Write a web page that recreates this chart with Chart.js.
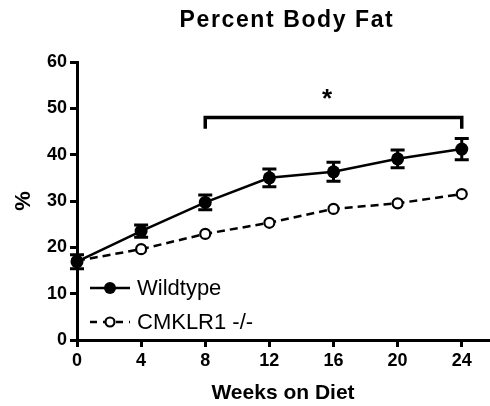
<!DOCTYPE html>
<html>
<head>
<meta charset="utf-8">
<script src="https://cdn.jsdelivr.net/npm/chart.js@4/dist/chart.umd.min.js"></script>
<style>
  html, body { margin: 0; padding: 0; background: #fff; }
  #wrap { width: 490px; height: 406px; }
</style>
</head>
<body>
<div id="wrap"><canvas id="c" width="490" height="406"></canvas></div>
<script>
// Percent body fat over weeks on a high-fat diet
const weeks = [0, 4, 8, 12, 16, 20, 24];
const wildtype = [16.9, 23.5, 29.7, 35.0, 36.3, 39.1, 41.2];
const wildtypeSem = [1.5, 1.3, 1.6, 1.9, 2.05, 1.9, 2.3];
const knockout = [17.1, 19.6, 22.9, 25.3, 28.3, 29.5, 31.5];
const seriesNames = ['Wildtype', 'CMKLR1 -/-'];
const chartTitle = 'Percent Body Fat';
const xTitle = 'Weeks on Diet';
const yTitle = '%';
const yTicks = [0, 10, 20, 30, 40, 50, 60];
const xTicks = [0, 4, 8, 12, 16, 20, 24];
// significance bracket spanning weeks 8-24
const bracketWeeks = [8, 24];
const bracketLevel = 48;
const bracketFoot = 45.6;
const starWeek = 15.6;
const starLevel = 52.8;

const FONT = '"Liberation Sans", Arial, Helvetica, sans-serif';

const toXY = (xs, ys) => xs.map((x, i) => ({ x, y: ys[i] }));

// draws SEM whiskers with caps under the markers
const errorBars = {
  id: 'errorBars',
  beforeDatasetsDraw(chart) {
    const { ctx, scales: { x, y } } = chart;
    ctx.save();
    ctx.strokeStyle = '#000';
    ctx.lineWidth = 3;
    weeks.forEach((w, i) => {
      const px = x.getPixelForValue(w);
      const hi = y.getPixelForValue(wildtype[i] + wildtypeSem[i]);
      const lo = y.getPixelForValue(wildtype[i] - wildtypeSem[i]);
      ctx.beginPath();
      ctx.moveTo(px, hi); ctx.lineTo(px, lo);
      ctx.moveTo(px - 7, hi); ctx.lineTo(px + 7, hi);
      ctx.moveTo(px - 7, lo); ctx.lineTo(px + 7, lo);
      ctx.stroke();
    });
    ctx.restore();
  }
};

// title, significance bracket and in-plot legend
const decorations = {
  id: 'decorations',
  afterDraw(chart) {
    const { ctx, scales: { x, y } } = chart;
    ctx.save();
    // title
    ctx.fillStyle = '#000';
    ctx.font = 'bold 23px ' + FONT;
    ctx.textAlign = 'center';
    ctx.textBaseline = 'middle';
    if ('letterSpacing' in ctx) ctx.letterSpacing = '1.6px';
    ctx.fillText(chartTitle, 287, 21);
    if ('letterSpacing' in ctx) ctx.letterSpacing = '0px';

    // bracket
    const x0 = x.getPixelForValue(bracketWeeks[0]);
    const x1 = x.getPixelForValue(bracketWeeks[1]);
    const yb = y.getPixelForValue(bracketLevel);
    const yf = y.getPixelForValue(bracketFoot);
    ctx.strokeStyle = '#000';
    ctx.lineWidth = 3.5;
    ctx.lineJoin = 'miter';
    ctx.beginPath();
    ctx.moveTo(x0, yf); ctx.lineTo(x0, yb); ctx.lineTo(x1, yb); ctx.lineTo(x1, yf);
    ctx.stroke();
    ctx.font = 'bold 26px ' + FONT;
    ctx.fillText('*', x.getPixelForValue(starWeek), y.getPixelForValue(starLevel) + 4);

    // legend
    const lx = 90, rows = [288, 322];
    ctx.font = '22px ' + FONT;
    ctx.textAlign = 'left';
    // Wildtype row
    ctx.lineWidth = 2.5;
    ctx.setLineDash([]);
    ctx.beginPath(); ctx.moveTo(lx, rows[0]); ctx.lineTo(lx + 40, rows[0]); ctx.stroke();
    ctx.beginPath(); ctx.arc(lx + 20, rows[0], 6, 0, Math.PI * 2); ctx.fill();
    ctx.fillText(seriesNames[0], lx + 47, rows[0] + 1);
    // knockout row
    ctx.setLineDash([7, 6]);
    ctx.beginPath(); ctx.moveTo(lx, rows[1]); ctx.lineTo(lx + 40, rows[1]); ctx.stroke();
    ctx.setLineDash([]);
    ctx.beginPath(); ctx.arc(lx + 20, rows[1], 4.5, 0, Math.PI * 2);
    ctx.fillStyle = '#fff'; ctx.fill();
    ctx.lineWidth = 2.2; ctx.stroke();
    ctx.fillStyle = '#000';
    ctx.fillText(seriesNames[1], lx + 47, rows[1] + 1);
    ctx.restore();
  }
};

new Chart(document.getElementById('c'), {
  type: 'line',
  data: {
    datasets: [
      {
        label: seriesNames[0],
        data: toXY(weeks, wildtype),
        borderColor: '#000',
        backgroundColor: '#000',
        borderWidth: 2.5,
        pointRadius: 6.5,
        pointBorderWidth: 0,
        pointBackgroundColor: '#000',
        tension: 0,
        clip: false
      },
      {
        label: seriesNames[1],
        data: toXY(weeks, knockout),
        borderColor: '#000',
        borderWidth: 2.5,
        borderDash: [8, 5],
        pointRadius: 5,
        pointBorderWidth: 2.2,
        pointBorderColor: '#000',
        pointBackgroundColor: '#fff',
        tension: 0,
        clip: false
      }
    ]
  },
  options: {
    responsive: false,
    animation: false,
    devicePixelRatio: 1,
    layout: { autoPadding: false, padding: { top: 62, right: 1, left: 0, bottom: 0 } },
    plugins: {
      legend: { display: false },
      title: { display: false },
      tooltip: { enabled: false }
    },
    scales: {
      x: {
        type: 'linear',
        min: 0,
        max: 25.7,
        afterBuildTicks: s => { s.ticks = xTicks.map(v => ({ value: v })); },
        afterFit: s => { s.height = 66; s.paddingLeft = 0; s.paddingRight = 0; },
        ticks: {
          color: '#000',
          font: { family: FONT, size: 18, weight: 'bold' },
          padding: 3,
          maxRotation: 0
        },
        grid: { drawOnChartArea: false, drawTicks: true, tickLength: 7, lineWidth: 3, color: '#000' },
        border: { display: true, width: 3, color: '#000' },
        title: {
          display: true,
          text: xTitle,
          color: '#000',
          font: { family: FONT, size: 21, weight: 'bold' },
          padding: { top: 0, bottom: 0 }
        }
      },
      y: {
        min: 0,
        max: 60,
        afterBuildTicks: s => { s.ticks = yTicks.map(v => ({ value: v })); },
        afterFit: s => { s.width = 77; s.paddingTop = 0; s.paddingBottom = 0; },
        ticks: {
          color: '#000',
          font: { family: FONT, size: 18, weight: 'bold' },
          padding: 3
        },
        grid: { drawOnChartArea: false, drawTicks: true, tickLength: 7, lineWidth: 3, color: '#000' },
        border: { display: true, width: 3, color: '#000' },
        title: {
          display: true,
          text: yTitle,
          color: '#000',
          font: { family: FONT, size: 22, weight: 'bold' },
          padding: { top: 11, bottom: 0 }
        }
      }
    }
  },
  plugins: [errorBars, decorations]
});
</script>
</body>
</html>
